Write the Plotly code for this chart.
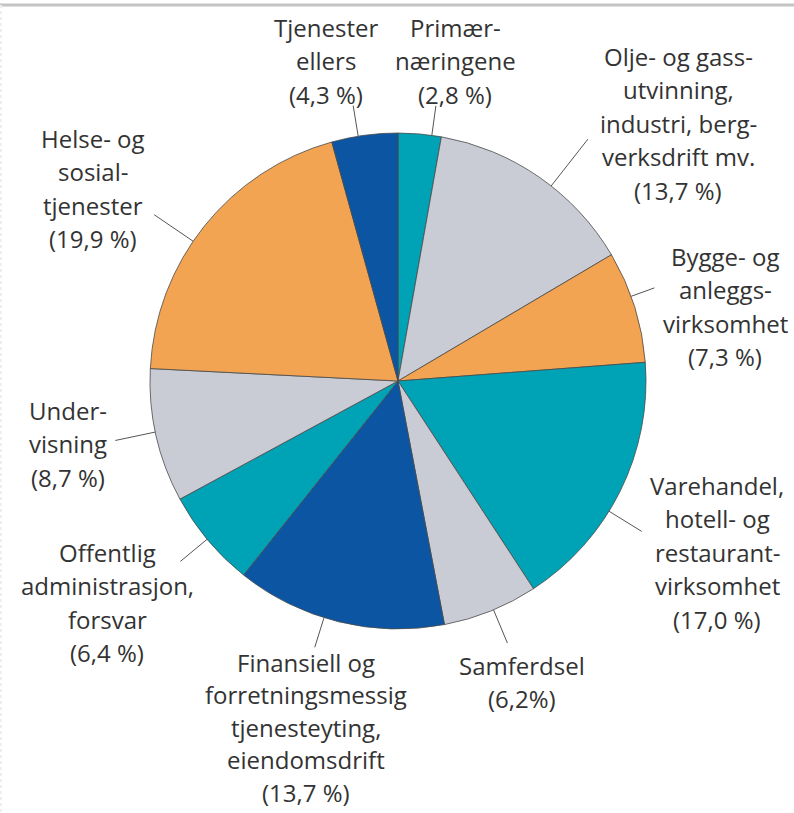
import math
import plotly.graph_objects as go

# ---------------- data ----------------
sectors = [
    "Primærnæringene",
    "Olje- og gassutvinning, industri, bergverksdrift mv.",
    "Bygge- og anleggsvirksomhet",
    "Varehandel, hotell- og restaurantvirksomhet",
    "Samferdsel",
    "Finansiell og forretningsmessig tjenesteyting, eiendomsdrift",
    "Offentlig administrasjon, forsvar",
    "Undervisning",
    "Helse- og sosialtjenester",
    "Tjenester ellers",
]
shares = [2.8, 13.7, 7.3, 17.0, 6.2, 13.7, 6.4, 8.7, 19.9, 4.3]
label_lines = [
    ["Primær-", "næringene", "(2,8 %)"],
    ["Olje- og gass-", "utvinning,", "industri, berg-", "verksdrift mv.", "(13,7 %)"],
    ["Bygge- og", "anleggs-", "virksomhet", "(7,3 %)"],
    ["Varehandel,", "hotell- og", "restaurant-", "virksomhet", "(17,0 %)"],
    ["Samferdsel", "(6,2%)"],
    ["Finansiell og", "forretningsmessig", "tjenesteyting,", "eiendomsdrift", "(13,7 %)"],
    ["Offentlig", "administrasjon,", "forsvar", "(6,4 %)"],
    ["Under-", "visning", "(8,7 %)"],
    ["Helse- og", "sosial-", "tjenester", "(19,9 %)"],
    ["Tjenester", "ellers", "(4,3 %)"],
]

# ---------------- style / layout ----------------
W, H = 794, 813
CX, CY, R = 398, 381, 248
TEAL, GREY, ORANGE, BLUE = "#00A3B5", "#C9CCD5", "#F2A452", "#0B55A3"
colors = [TEAL, GREY, ORANGE, TEAL, GREY, BLUE, TEAL, GREY, ORANGE, BLUE]
FONT = "Open Sans"
FS = 24
LH = 33.5
TEXT_COLOR = "#333333"
# label block layout: (centre x, y of first line, line step) in pixels
label_pos = [
    (455, 27, LH), (678, 56, LH), (725, 256, LH), (717, 485, LH), (522, 665, LH),
    (306, 662, 32.5), (107, 552, LH), (68, 410, LH), (93, 138, LH), (326, 27, LH),
]
# leader-line angular shift (deg) and outer radius factor
leader_shift = [2.8, 3.4, -2.5, 5.4, -0.7, 3.5, 0.3, 0.9, -4.4, -1.5]
leader_out = [1.12, 1.24, 1.10, 1.155, 1.145, 1.125, 1.14, 1.165, 1.19, 1.125]

fig = go.Figure()

fig.add_trace(go.Pie(
    labels=sectors,
    values=shares,
    sort=False,
    direction="clockwise",
    rotation=0,
    marker=dict(colors=colors, line=dict(color="#4a4a4a", width=0.8)),
    textinfo="none",
    hoverinfo="label+value",
    showlegend=False,
    domain=dict(x=[(CX - R) / W, (CX + R) / W],
                y=[(H - CY - R) / H, (H - CY + R) / H]),
))

# invisible pixel-coordinate axes for annotations and shapes
fig.add_trace(go.Scatter(x=[0, W], y=[0, H], mode="markers",
                         marker=dict(opacity=0), hoverinfo="skip", showlegend=False))

total = sum(shares)
cum = 0.0
shapes = []
annotations = []
for i, v in enumerate(shares):
    mid = (cum + v / 2) / total * 360.0
    cum += v
    ang = math.radians(mid + leader_shift[i])
    x0 = CX + R * math.sin(ang)
    y0 = CY - R * math.cos(ang)
    x1 = CX + R * leader_out[i] * math.sin(ang)
    y1 = CY - R * leader_out[i] * math.cos(ang)
    shapes.append(dict(type="line", xref="x", yref="y", x0=x0, y0=y0, x1=x1, y1=y1,
                       line=dict(color="#555555", width=1)))
    lx, ly, step = label_pos[i]
    for j, line in enumerate(label_lines[i]):
        annotations.append(dict(x=lx, y=ly + j * step, xref="x", yref="y", text=line,
                                showarrow=False, xanchor="center", yanchor="middle",
                                font=dict(family=FONT, size=FS, color=TEXT_COLOR)))

# top frame line and faint left edge
shapes.append(dict(type="line", xref="x", yref="y", x0=0, y0=5, x1=W, y1=5,
                   line=dict(color="#c4c4c4", width=3)))
shapes.append(dict(type="line", xref="x", yref="y", x0=1, y0=5, x1=1, y1=H,
                   line=dict(color="#eeeeee", width=2, dash="dot")))

fig.update_layout(
    width=W, height=H,
    margin=dict(l=0, r=0, t=0, b=0),
    paper_bgcolor="white", plot_bgcolor="rgba(0,0,0,0)",
    xaxis=dict(range=[0, W], visible=False, fixedrange=True),
    yaxis=dict(range=[H, 0], visible=False, fixedrange=True),
    shapes=shapes,
    annotations=annotations,
    showlegend=False,
)

fig.write_html("out.html",
               config={"displayModeBar": False},
               post_script="document.body.style.margin='0px';document.body.style.overflow='hidden';")
